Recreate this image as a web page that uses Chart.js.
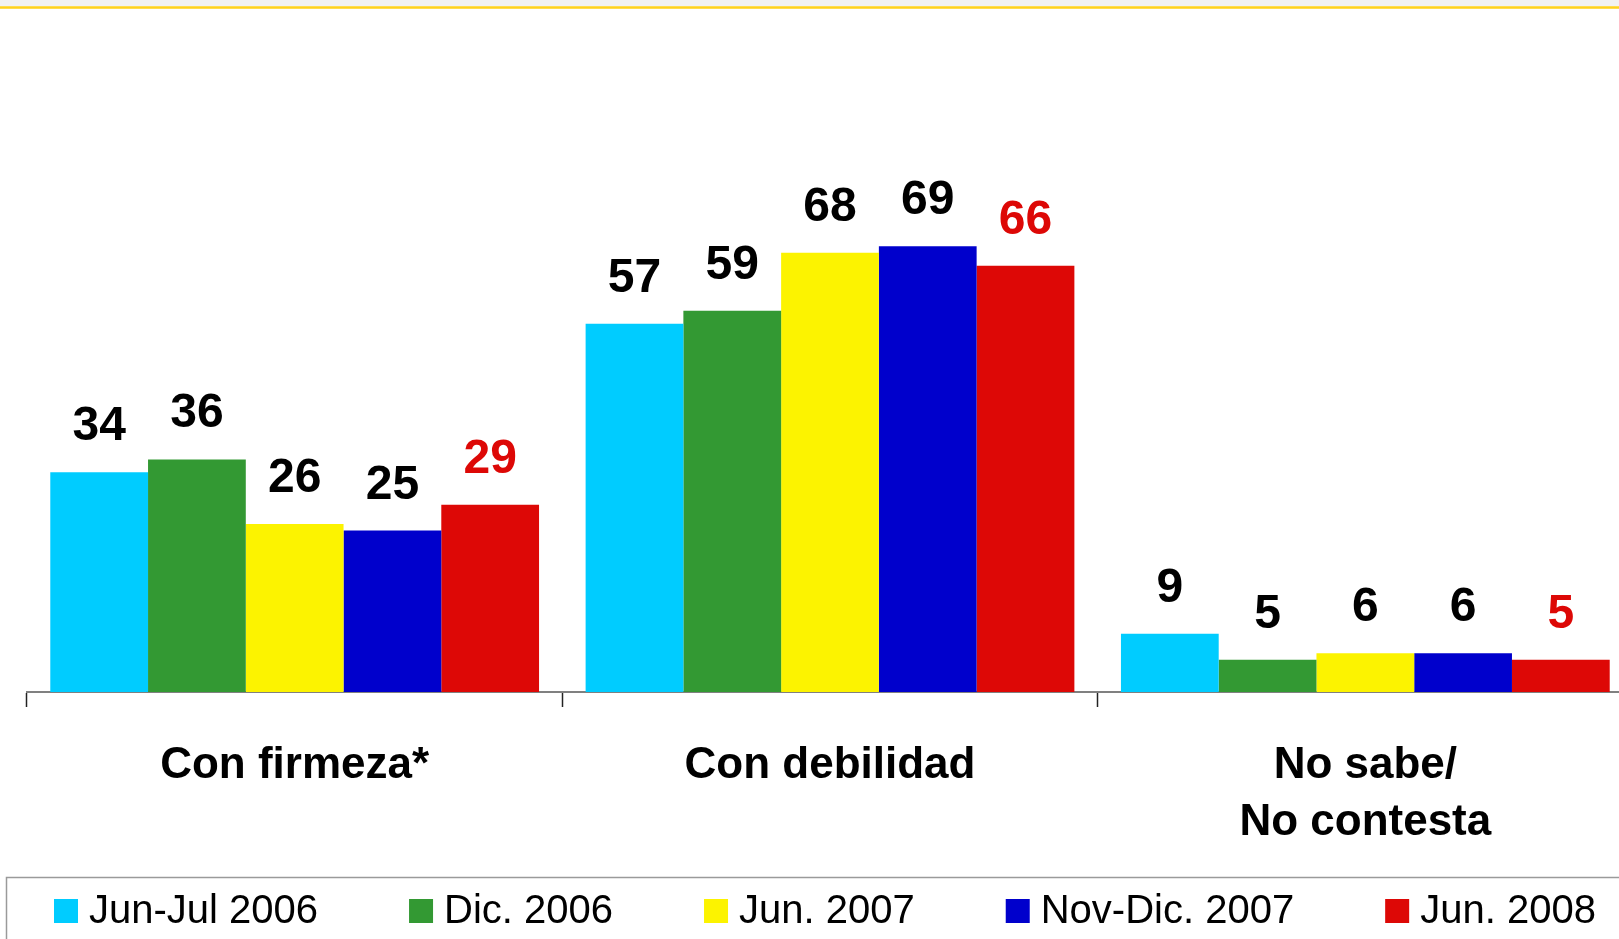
<!DOCTYPE html>
<html>
<head>
<meta charset="utf-8">
<script src="https://cdn.jsdelivr.net/npm/chart.js@4"></script>
<style>
  html, body { margin: 0; padding: 0; background: #ffffff; overflow: hidden; }
  #wrap { position: absolute; left: 0; top: 0; width: 1650px; height: 939px; }
</style>
</head>
<body>
<div id="wrap"><canvas id="c" width="1650" height="939"></canvas></div>
<script>
// ---- data ----
const categories = ['Con firmeza*', 'Con debilidad', ['No sabe/', 'No contesta']];
const seriesNames = ['Jun-Jul 2006', 'Dic. 2006', 'Jun. 2007', 'Nov-Dic. 2007', 'Jun. 2008'];
const junJul2006 = [34, 57, 9];
const dic2006    = [36, 59, 5];
const jun2007    = [26, 68, 6];
const novDic2007 = [25, 69, 6];
const jun2008    = [29, 66, 5];
const seriesColors = ['#00CCFF', '#339933', '#FCF300', '#0000CC', '#DD0806'];
const labelColors  = ['#000000', '#000000', '#000000', '#000000', '#DD0806'];

const FONT = '"Liberation Sans", Arial, Helvetica, sans-serif';
const seriesValues = [junJul2006, dic2006, jun2007, novDic2007, jun2008];

const datasets = seriesValues.map((vals, i) => ({
  label: seriesNames[i],
  data: vals,
  backgroundColor: seriesColors[i],
  borderWidth: 0,
  categoryPercentage: 0.913,
  barPercentage: 1.0
}));

const backgroundPlugin = {
  id: 'bgDecor',
  beforeDraw(chart) {
    const ctx = chart.ctx;
    ctx.save();
    ctx.fillStyle = '#ffffff';
    ctx.fillRect(0, 0, chart.width, chart.height);
    ctx.fillStyle = '#F2F2F2';
    ctx.fillRect(0, 0, chart.width, 6);
    ctx.fillStyle = '#FFE680';
    ctx.fillRect(0, 6, chart.width, 3);
    ctx.fillStyle = '#FFD21F';
    ctx.fillRect(0, 6.5, chart.width, 2);
    ctx.restore();
  }
};

const valueLabelPlugin = {
  id: 'valueLabels',
  afterDatasetsDraw(chart) {
    const ctx = chart.ctx;
    ctx.save();
    ctx.font = 'bold 48px ' + FONT;
    ctx.textAlign = 'center';
    ctx.textBaseline = 'alphabetic';
    chart.data.datasets.forEach((ds, di) => {
      const meta = chart.getDatasetMeta(di);
      ctx.fillStyle = labelColors[di];
      meta.data.forEach((bar, i) => {
        ctx.fillText(String(ds.data[i]), bar.x, bar.y - 32);
      });
    });
    ctx.restore();
  }
};

const legendPlugin = {
  id: 'customLegend',
  afterDraw(chart) {
    const ctx = chart.ctx;
    ctx.save();
    const frameTop = chart.height - 62;
    ctx.strokeStyle = '#9a9a9a';
    ctx.lineWidth = 1.5;
    ctx.strokeRect(6.5, frameTop + 0.5, chart.width + 20, 200);
    ctx.font = '40px ' + FONT;
    ctx.textBaseline = 'alphabetic';
    ctx.textAlign = 'left';
    const baseline = frameTop + 46;
    const box = 24, boxGap = 11, itemGap = 91;
    let x = 54;
    chart.data.datasets.forEach((ds) => {
      ctx.fillStyle = ds.backgroundColor;
      ctx.fillRect(x, baseline - box, box, box);
      ctx.fillStyle = '#000000';
      ctx.fillText(ds.label, x + box + boxGap, baseline);
      x += box + boxGap + ctx.measureText(ds.label).width + itemGap;
    });
    ctx.restore();
  }
};

new Chart(document.getElementById('c'), {
  type: 'bar',
  data: { labels: categories, datasets },
  options: {
    responsive: false,
    devicePixelRatio: 1,
    animation: false,
    layout: { padding: { left: 27, right: 17, top: 46, bottom: 57 } },
    plugins: {
      legend: { display: false },
      tooltip: { enabled: false },
      title: { display: false }
    },
    scales: {
      x: {
        z: 1,
        offset: true,
        grid: {
          offset: true,
          drawOnChartArea: false,
          drawTicks: true,
          tickLength: 15,
          tickColor: '#222222',
          tickWidth: 1.5
        },
        border: { display: true, color: '#808080', width: 2 },
        ticks: {
          color: '#000000',
          padding: 30.5,
          maxRotation: 0,
          autoSkip: false,
          font: { family: FONT, size: 44, weight: 'bold', lineHeight: 57 / 44 }
        }
      },
      y: {
        display: false,
        min: 0,
        max: 100,
        grid: { display: false }
      }
    }
  },
  plugins: [backgroundPlugin, valueLabelPlugin, legendPlugin]
});
</script>
</body>
</html>
